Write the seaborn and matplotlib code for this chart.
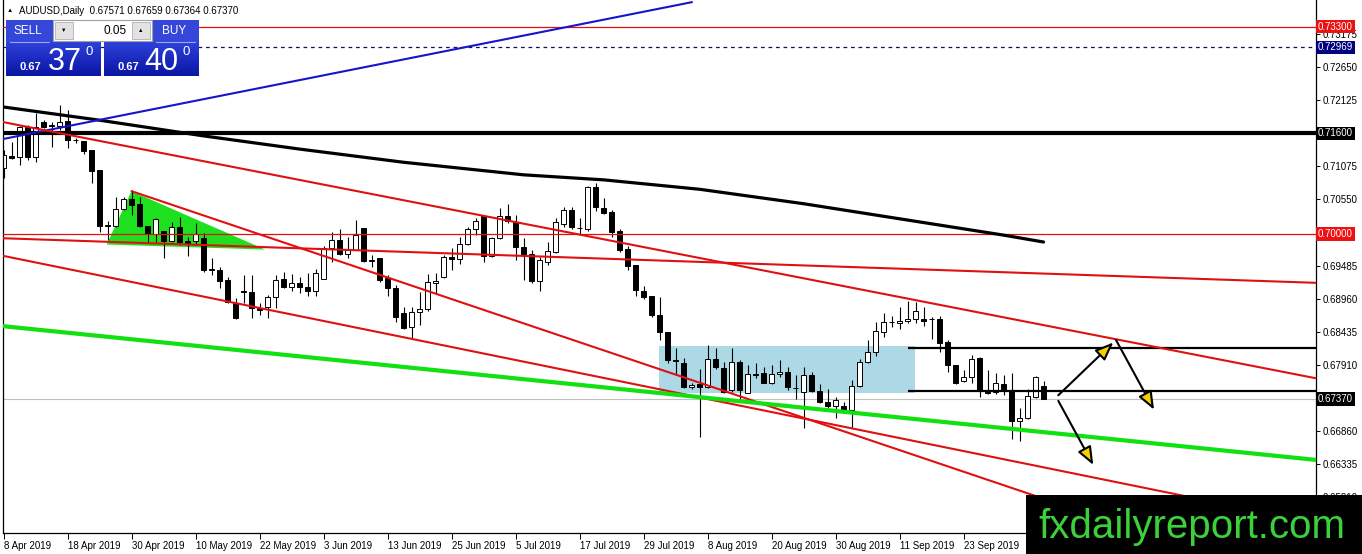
import numpy as np
import pandas as pd
import matplotlib
matplotlib.use('Agg')
import matplotlib.pyplot as plt
import matplotlib.patches as mpatches
import matplotlib.lines as mlines
from matplotlib.transforms import blended_transform_factory
import seaborn as sns

W, H = 1362, 554

#%% dados das velas (AUDUSD diário, a partir de 8 Apr 2019)
abertura = [0.7105, 0.7124, 0.7122, 0.7170, 0.7122, 0.7178, 0.7173, 0.7172, 0.7180, 0.7150,
            0.7148, 0.7134, 0.7102, 0.7014, 0.7013, 0.7040, 0.7056, 0.7048, 0.7013, 0.7000,
            0.7005, 0.6988, 0.7011, 0.6988, 0.6988, 0.6993, 0.6944, 0.6942, 0.6927, 0.6890,
            0.6909, 0.6907, 0.6882, 0.6884, 0.6900, 0.6928, 0.6916, 0.6922, 0.6916, 0.6909,
            0.6928, 0.6977, 0.6990, 0.6968, 0.6974, 0.7009, 0.6958, 0.6962, 0.6930, 0.6914,
            0.6874, 0.6852, 0.6876, 0.6881, 0.6922, 0.6931, 0.6963, 0.6960, 0.6984, 0.7008,
            0.7028, 0.6965, 0.6993, 0.7028, 0.7019, 0.6979, 0.6968, 0.6925, 0.6955, 0.6971,
            0.7016, 0.7038, 0.7009, 0.7008, 0.7075, 0.7041, 0.7035, 0.7005, 0.6976, 0.6950,
            0.6909, 0.6901, 0.6871, 0.6844, 0.6799, 0.6794, 0.6756, 0.6761, 0.6756, 0.6801,
            0.6786, 0.6751, 0.6796, 0.6747, 0.6777, 0.6778, 0.6763, 0.6777, 0.6780, 0.6755,
            0.6748, 0.6775, 0.6750, 0.6732, 0.6726, 0.6726, 0.6720, 0.6758, 0.6796, 0.6812,
            0.6844, 0.6860, 0.6858, 0.6861, 0.6865, 0.6865, 0.6865, 0.6865, 0.6828, 0.6791,
            0.6766, 0.6772, 0.6802, 0.6748, 0.6748, 0.6761, 0.6750, 0.6702, 0.6707, 0.6740,
            0.67571]
maxima = [0.7134, 0.7146, 0.7172, 0.7173, 0.7192, 0.7181, 0.7178, 0.7205, 0.7197, 0.7153,
          0.7148, 0.7134, 0.7102, 0.7020, 0.7059, 0.7059, 0.7070, 0.7059, 0.7013, 0.7025,
          0.7005, 0.7019, 0.7027, 0.6995, 0.7017, 0.7001, 0.6962, 0.6947, 0.6931, 0.6898,
          0.6934, 0.6934, 0.6890, 0.6902, 0.6934, 0.6939, 0.6936, 0.6931, 0.6938, 0.6944,
          0.6980, 0.7003, 0.7008, 0.6995, 0.7022, 0.7009, 0.6966, 0.6962, 0.6934, 0.6919,
          0.6884, 0.6884, 0.6907, 0.6936, 0.6938, 0.6966, 0.6978, 0.6995, 0.7011, 0.7025,
          0.7030, 0.6995, 0.7041, 0.7048, 0.7030, 0.6993, 0.6974, 0.6963, 0.6987, 0.7025,
          0.7043, 0.7043, 0.7025, 0.7076, 0.7081, 0.7057, 0.7038, 0.7008, 0.6981, 0.6950,
          0.6917, 0.6901, 0.6900, 0.6844, 0.6818, 0.6802, 0.6763, 0.6784, 0.6823, 0.6818,
          0.6796, 0.6818, 0.6799, 0.6791, 0.6794, 0.6788, 0.6791, 0.6799, 0.6788, 0.6775,
          0.6788, 0.6780, 0.6761, 0.6753, 0.6740, 0.6732, 0.6767, 0.6801, 0.6831, 0.6860,
          0.6874, 0.6869, 0.6884, 0.6893, 0.6892, 0.6884, 0.6868, 0.6869, 0.6831, 0.6791,
          0.6783, 0.6807, 0.6804, 0.6783, 0.6778, 0.6775, 0.6778, 0.6723, 0.6753, 0.6774,
          0.67659]
minima = [0.7089, 0.7119, 0.7110, 0.7118, 0.7114, 0.7169, 0.7138, 0.7165, 0.7137, 0.7145,
          0.7127, 0.7081, 0.7003, 0.6990, 0.7011, 0.7038, 0.7030, 0.7011, 0.6987, 0.6987,
          0.6962, 0.6987, 0.6983, 0.6964, 0.6983, 0.6939, 0.6934, 0.6914, 0.6890, 0.6864,
          0.6890, 0.6866, 0.6871, 0.6866, 0.6882, 0.6914, 0.6909, 0.6906, 0.6901, 0.6901,
          0.6928, 0.6955, 0.6966, 0.6962, 0.6974, 0.6955, 0.6947, 0.6923, 0.6901, 0.6860,
          0.6849, 0.6834, 0.6855, 0.6877, 0.6906, 0.6930, 0.6942, 0.6952, 0.6983, 0.6998,
          0.6955, 0.6963, 0.6992, 0.7017, 0.6958, 0.6927, 0.6922, 0.6909, 0.6950, 0.6970,
          0.7011, 0.7008, 0.6998, 0.7005, 0.7036, 0.7032, 0.6995, 0.6971, 0.6942, 0.6901,
          0.6896, 0.6868, 0.6831, 0.6794, 0.6777, 0.6755, 0.6753, 0.6677, 0.6755, 0.6784,
          0.6747, 0.6748, 0.6735, 0.6747, 0.6771, 0.6763, 0.6761, 0.6772, 0.6751, 0.6737,
          0.6691, 0.6748, 0.6731, 0.6723, 0.6707, 0.6715, 0.6691, 0.6756, 0.6794, 0.6805,
          0.6836, 0.6852, 0.6849, 0.6858, 0.6858, 0.6853, 0.6833, 0.6812, 0.6780, 0.6761,
          0.6764, 0.6763, 0.6740, 0.6745, 0.6745, 0.6743, 0.6673, 0.6670, 0.6705, 0.6739,
          0.67364]
fechamento = [0.7126, 0.7121, 0.7170, 0.7122, 0.7170, 0.7170, 0.7172, 0.7178, 0.7150, 0.7149,
              0.7132, 0.7100, 0.7013, 0.7013, 0.7040, 0.7056, 0.7046, 0.7013, 0.7000, 0.7024,
              0.6988, 0.7011, 0.6987, 0.6985, 0.7000, 0.6942, 0.6943, 0.6925, 0.6892, 0.6866,
              0.6908, 0.6882, 0.6879, 0.6900, 0.6927, 0.6916, 0.6922, 0.6916, 0.6909, 0.6938,
              0.6977, 0.6990, 0.6968, 0.6974, 0.6998, 0.6957, 0.6957, 0.6927, 0.6914, 0.6868,
              0.6850, 0.6876, 0.6881, 0.6923, 0.6925, 0.6963, 0.6960, 0.6984, 0.7008, 0.7020,
              0.6965, 0.6993, 0.7028, 0.7020, 0.6979, 0.6968, 0.6925, 0.6958, 0.6973, 0.7019,
              0.7038, 0.7011, 0.7010, 0.7075, 0.7043, 0.7033, 0.7003, 0.6974, 0.6949, 0.6911,
              0.6900, 0.6871, 0.6844, 0.6799, 0.6798, 0.6756, 0.6760, 0.6756, 0.6801, 0.6788,
              0.6748, 0.6796, 0.6751, 0.6777, 0.6776, 0.6763, 0.6777, 0.6780, 0.6756, 0.6754,
              0.6775, 0.6750, 0.6732, 0.6726, 0.6735, 0.6720, 0.6758, 0.6796, 0.6812, 0.6845,
              0.6860, 0.6859, 0.6861, 0.6865, 0.6877, 0.6861, 0.6864, 0.6826, 0.6791, 0.6763,
              0.6772, 0.6801, 0.6750, 0.6747, 0.6763, 0.6750, 0.6702, 0.6707, 0.6742, 0.6772,
              0.67370]

# rótulos do eixo de tempo (a cada 8 barras)
pos_datas = [0, 8, 16, 24, 32, 40, 48, 56, 64, 72, 80, 88, 96, 104, 112, 120]
rotulos_datas = ['8 Apr 2019', '18 Apr 2019', '30 Apr 2019', '10 May 2019', '22 May 2019',
                 '3 Jun 2019', '13 Jun 2019', '25 Jun 2019', '5 Jul 2019', '17 Jul 2019',
                 '29 Jul 2019', '8 Aug 2019', '20 Aug 2019', '30 Aug 2019', '11 Sep 2019',
                 '23 Sep 2019']

# escala de preços à direita
ticks_preco = [0.73175, 0.72650, 0.72125, 0.71075, 0.70550, 0.69485, 0.68960,
               0.68435, 0.67910, 0.66860, 0.66335, 0.65810]

# níveis horizontais
nivel_733 = 0.73300
nivel_72969 = 0.72969
nivel_716 = 0.71600
nivel_700 = 0.70000
preco_bid = 0.67370

# média móvel (amostrada)
mm_barras = [0, 12, 25, 37, 50, 65, 75, 87, 100, 112, 125, 130]
mm_valores = [0.7202, 0.7181, 0.7156, 0.7135, 0.7114, 0.7094, 0.7086, 0.7071, 0.7048,
              0.7024, 0.6998, 0.6987]

# linhas de tendência (barra, preço)
lt_azul = [(-0.06, 0.7151), (86.06, 0.7369)]
lt_verm_sup = [(-0.06, 0.7178), (164.06, 0.6770)]
lt_verm_horiz = [(-0.06, 0.6993), (164.06, 0.6922)]
lt_verm_triang = [(16.0, 0.7068), (164.06, 0.6432)]
lt_verm_inf = [(-0.06, 0.6965), (164.06, 0.6540)]
lt_verde = [(-0.06, 0.6853), (164.06, 0.6640)]

# triângulo verde e retângulo de consolidação
triangulo = [(12.9, 0.6983), (16.0, 0.7068), (32.7, 0.6975)]
ret_barras = [81.94, 113.94]
ret_precos = [0.6747, 0.6821]

# linhas pretas de suporte/resistência (a partir da barra 113)
sr_inicio = 113.06
sr_precos = [0.6819, 0.6750]

# setas de projeção (origem, destino)
setas = [((131.85, 0.6743), (138.72, 0.6827)),
         ((139.06, 0.6831), (143.81, 0.6720)),
         ((131.85, 0.6734), (136.22, 0.6632))]

#%% figura
sns.set_theme(style='white')
plt.rcParams['font.family'] = ['Liberation Sans', 'DejaVu Sans']

fig = plt.figure(figsize=(W / 100, H / 100), dpi=100)
fig.patch.set_facecolor('white')
ax = fig.add_axes([3 / W, 21 / H, 1313 / W, 533 / H])

df = pd.DataFrame({'open': abertura, 'high': maxima, 'low': minima, 'close': fechamento})
df['barra'] = np.arange(len(df))
df['alta'] = df['close'] >= df['open']
df['base'] = df[['open', 'close']].min(axis=1)
df['corpo'] = (df['close'] - df['open']).abs().clip(lower=0.00003)

# fundo: retângulo azul e triângulo verde
ax.add_patch(mpatches.Rectangle((ret_barras[0], ret_precos[0]), ret_barras[1] - ret_barras[0],
                                ret_precos[1] - ret_precos[0], facecolor='#add8e6',
                                edgecolor='none', zorder=0.5))
ax.add_patch(mpatches.Polygon(triangulo, closed=True, facecolor='#1fe01f',
                              edgecolor='none', zorder=0.5))

# velas
ax.vlines(df['barra'], df['low'], df['high'], color='black', lw=0.8, zorder=2)
ax.bar(df['barra'], df['corpo'], bottom=df['base'], width=0.6,
       color=np.where(df['alta'], 'white', 'black'), edgecolor='black', lw=0.7, zorder=2.1)

# níveis horizontais
ax.axhline(nivel_733, color='#e01010', lw=0.9, zorder=3)
ax.axhline(nivel_72969, color='#101060', lw=0.9, ls=(0, (3, 3)), zorder=3)
ax.axhline(nivel_716, color='black', lw=3.0, zorder=3)
ax.axhline(nivel_700, color='#e01010', lw=0.9, zorder=3)
ax.axhline(preco_bid, color='#c0c0c0', lw=0.8, zorder=1.5)
for p in sr_precos:
    ax.hlines(p, sr_inicio, 170, color='black', lw=1.6, zorder=3)

# média móvel
sns.lineplot(x=mm_barras, y=mm_valores, color='black', lw=2.3, ax=ax, zorder=3)

# linhas de tendência
def desenha_lt(pontos, cor, lw):
    xs = [p[0] for p in pontos]
    ys = [p[1] for p in pontos]
    sns.lineplot(x=xs, y=ys, color=cor, lw=lw, ax=ax, zorder=3)

desenha_lt(lt_azul, '#1515cc', 1.5)
desenha_lt(lt_verm_sup, '#e01010', 1.5)
desenha_lt(lt_verm_horiz, '#e01010', 1.5)
desenha_lt(lt_verm_triang, '#e01010', 1.5)
desenha_lt(lt_verm_inf, '#e01010', 1.5)
desenha_lt(lt_verde, '#11e011', 3.0)

# setas
for origem, destino in setas:
    ax.annotate('', xy=destino, xytext=origem, zorder=4,
                arrowprops=dict(arrowstyle='-|>,head_length=1.0,head_width=0.4',
                                fc='#f2d000', ec='black', lw=1.5, mutation_scale=11,
                                shrinkA=0, shrinkB=0))

# eixos
ax.set_xlim(-0.0625, 164.06)
ax.set_ylim(0.65236, 0.73724)
ax.set_facecolor('white')
ax.grid(False)
ax.spines['top'].set_visible(False)
for s in ['left', 'bottom', 'right']:
    ax.spines[s].set_color('black')
    ax.spines[s].set_linewidth(0.9)

ax.yaxis.tick_right()
ax.set_yticks(ticks_preco)
ax.set_yticklabels(['{:.5f}'.format(v) for v in ticks_preco])
ax.tick_params(axis='y', direction='out', length=3, width=0.7, pad=2, labelsize=7,
               colors='black', right=True, left=False)
ax.set_xticks(pos_datas)
ax.set_xticklabels(rotulos_datas, ha='left')
ax.tick_params(axis='x', direction='out', length=4, width=0.7, pad=1.5, labelsize=7,
               colors='black', bottom=True)
ax.set_xlabel('')
ax.set_ylabel('')

# caixas de preço na escala
trans = blended_transform_factory(ax.transAxes, ax.transData)
for valor, cor in [(nivel_733, '#ee1111'), (nivel_72969, '#000080'), (nivel_716, 'black'),
                   (nivel_700, '#ee1111'), (preco_bid, 'black')]:
    ax.text(1.0016, valor, '{:.5f}'.format(valor), transform=trans, ha='left', va='center',
            fontsize=7, color='white', zorder=6, clip_on=False,
            bbox=dict(boxstyle='square,pad=0.18', fc=cor, ec='none'))

#%% painel de negociação e cabeçalho (coordenadas em pixels)
def fx(px):
    return px / W

def fy(py):
    return 1 - py / H

def ret_px(x0, y0, x1, y1, **kw):
    r = mpatches.Rectangle((fx(x0), fy(y1)), (x1 - x0) / W, (y1 - y0) / H,
                           transform=fig.transFigure, zorder=8, **kw)
    fig.add_artist(r)

def gradiente(x0, y0, x1, y1, topo, fundo, n=14):
    c0 = np.array(matplotlib.colors.to_rgb(topo))
    c1 = np.array(matplotlib.colors.to_rgb(fundo))
    passo = (y1 - y0) / n
    for k in range(n):
        cor = c0 + (c1 - c0) * k / (n - 1)
        ret_px(x0, y0 + k * passo, x1, y0 + (k + 1) * passo + 0.3, facecolor=cor,
               edgecolor='none')

fig.text(fx(7), fy(11), '▲', fontsize=4.5, color='black', va='center', zorder=9)
fig.text(fx(19), fy(11), 'AUDUSD,Daily  0.67571 0.67659 0.67364 0.67370', fontsize=7,
         color='black', va='center', zorder=9)

for x0, x1, hx0, hx1 in [(6, 101, 6, 53), (104, 199, 152, 199)]:
    ret_px(hx0, 20, hx1, 42, facecolor='#3547d9', edgecolor='none')
    gradiente(x0, 42, x1, 76, '#2c3fd8', '#0a16a4')
    fig.add_artist(mlines.Line2D([fx(hx0 + 4), fx(hx1 - 4)], [fy(42), fy(42)],
                                 transform=fig.transFigure, color='#9aa6f0', lw=0.8, zorder=9))

ret_px(53, 20, 152, 41, facecolor='white', edgecolor='#a0a0a0', lw=0.8)
ret_px(55, 22, 73, 39, facecolor='#e2e2e2', edgecolor='#b0b0b0', lw=0.6)
ret_px(132, 22, 150, 39, facecolor='#e2e2e2', edgecolor='#b0b0b0', lw=0.6)
fig.text(fx(64), fy(30.5), '▼', fontsize=4, color='black', ha='center', va='center', zorder=9)
fig.text(fx(141), fy(30.5), '▲', fontsize=4, color='black', ha='center', va='center', zorder=9)
fig.text(fx(127), fy(30.5), '0.05', fontsize=8.5, color='black', ha='right', va='center', zorder=9)

fig.text(fx(28), fy(31), 'SELL', fontsize=8.5, color='white', ha='center', va='center', zorder=9)
fig.text(fx(174), fy(31), 'BUY', fontsize=8.5, color='white', ha='center', va='center', zorder=9)
for x_peq, x_grd, x_sup, grande in [(20, 48, 86, '37'), (117, 144, 182, '40')]:
    fig.text(fx(x_peq), fy(70), '0.67', fontsize=8, fontweight='bold', color='white',
             va='baseline', zorder=9)
    fig.text(fx(x_grd), fy(70), grande, fontsize=22, color='white', va='baseline', zorder=9)
    fig.text(fx(x_sup), fy(55), '0', fontsize=9.5, color='white', va='baseline', zorder=9)

# marca d'água
ret_px(1026, 495, 1362, 554, facecolor='black', edgecolor='none')
fig.text(fx(1038), fy(538), 'fxdailyreport.com', fontsize=29, color='#3ad13a',
         va='baseline', ha='left', zorder=9)

fig.savefig('out.png', dpi=100, facecolor='white')
